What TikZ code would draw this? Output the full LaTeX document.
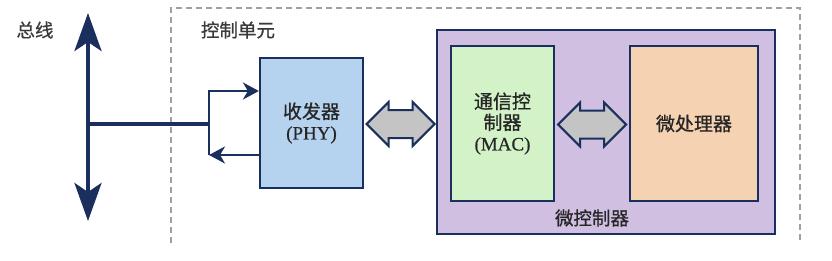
\documentclass[tikz,border=0pt]{standalone}
\usepackage{fontspec}
\setmainfont{Liberation Serif}[FakeBold=0.6]
\newfontfamily\cjk{Noto Sans CJK SC}[FakeBold=0.8]
\usetikzlibrary{arrows.meta,calc}
\definecolor{navy}{HTML}{1B2F5E}
\definecolor{phyfill}{HTML}{B5D3EF}
\definecolor{macfill}{HTML}{D3F2C7}
\definecolor{mcufill}{HTML}{D1BFE1}
\definecolor{cpufill}{HTML}{F5D2B2}
\definecolor{arrgray}{HTML}{C4C4C4}
\definecolor{dashgray}{HTML}{A0A0A0}
\definecolor{lbl}{HTML}{3A3A3A}
\tikzset{
  blockbox/.style={draw=navy,line width=2.2pt,inner sep=0pt,align=center,text=black!85,font=\fontsize{19}{21}\selectfont},
  dblarrow/.style={draw=navy,line width=2pt,fill=arrgray,line join=miter},
  lbltext/.style={text=lbl,font=\cjk\fontsize{18.5}{21}\selectfont,inner sep=0pt},
  busline/.style={draw=navy,line width=4pt},
  branch/.style={draw=navy,line width=2.5pt},
}
\begin{document}
\begin{tikzpicture}[x=1pt,y=-1pt]
\useasboundingbox (0,0) rectangle (832,260);
% control unit dashed frame (no bottom edge)
\draw[dashgray,line width=1.2pt,dash pattern=on 6pt off 4pt] (171,243) -- (171,8) -- (800,8) -- (800,243);
\node[lbltext] (buslbl) at (35,30) {总线};
\node[lbltext] (culbl) at (238,30) {控制单元};
% microcontroller
\node[blockbox,fill=mcufill,minimum width=338pt,minimum height=204pt] (mcu) at (606,132) {};
\node[lbltext,text=black!85] (mculbl) at (592,218) {微控制器};
% blocks
\node[blockbox,fill=phyfill,minimum width=103pt,minimum height=130pt] (phy) at (311.5,123)
  {{\cjk 收发器}\\(PHY)};
\node[blockbox,fill=macfill,minimum width=103pt,minimum height=155pt] (mac) at (502.5,123.5)
  {{\cjk 通信控}\\{\cjk 制器}\\(MAC)};
\node[blockbox,fill=cpufill,minimum width=128pt,minimum height=155pt] (cpu) at (694,123.5)
  {\cjk 微处理器};
% double arrows (from node to node)
\coordinate (a1l) at ($(phy.east)+(2.5,1)$);
\draw[dblarrow] (a1l) -- ++(22,-22) -- ++(0,8) -- ++(24,0) -- ++(0,-8) -- ++(22,22)
  -- ++(-22,22) -- ++(0,-8) -- ++(-24,0) -- ++(0,8) -- cycle;
\coordinate (a2l) at ($(mac.east)+(3,1)$);
\draw[dblarrow] (a2l) -- ++(22,-22) -- ++(0,8) -- ++(24,0) -- ++(0,-8) -- ++(22,22)
  -- ++(-22,22) -- ++(0,-8) -- ++(-24,0) -- ++(0,8) -- cycle;
% bus
\coordinate (bustop) at (88,13);
\coordinate (busbot) at (88,221);
\coordinate (busj) at (88,124);
\coordinate (brj) at (209,124);
\coordinate (brtop) at (209,91);
\coordinate (brbot) at (209,155);
\draw[busline,{Stealth[length=38pt,width=27pt,inset=9pt]}-{Stealth[length=38pt,width=27pt,inset=9pt]}] (bustop) -- (busbot);
\draw[busline] (busj) -- (brj);
\draw[branch,-{Stealth[length=16pt,width=17pt,inset=5pt]}] (brbot) -- (brtop) -- (brtop -| phy.west);
\draw[branch,-{Stealth[length=16pt,width=17pt,inset=5pt]}] (brbot -| phy.west) -- (brbot);
\end{tikzpicture}
\end{document}
